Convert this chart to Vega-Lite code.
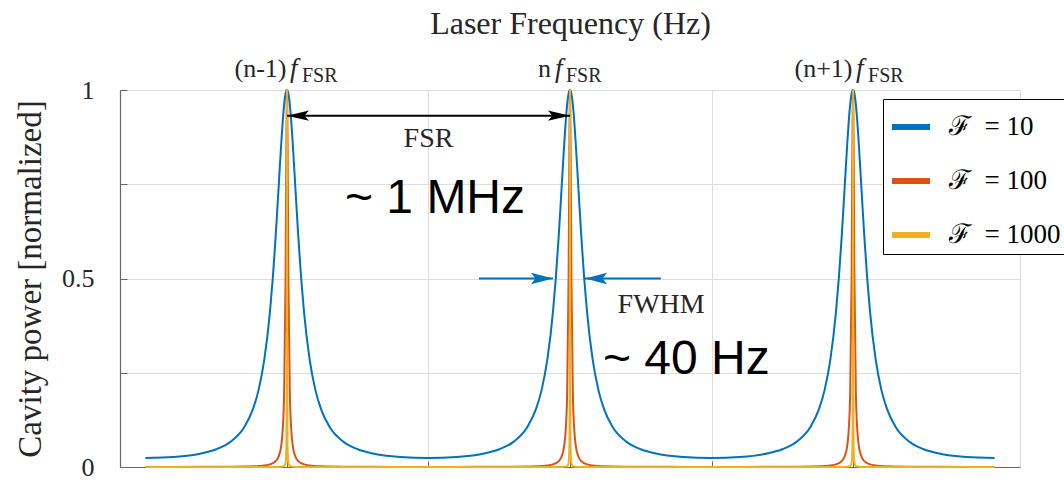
{
  "$schema": "https://vega.github.io/schema/vega-lite/v6.json",
  "width": 900,
  "height": 377,
  "autosize": {"type": "none"},
  "padding": {"left": 120, "top": 90, "right": 44, "bottom": 15},
  "background": "white",
  "config": {
    "view": {"stroke": "#dcdcdc", "strokeWidth": 1},
    "axis": {"labelFont": "Liberation Serif", "titleFont": "Liberation Serif"}
  },
  "datasets": {
    "curves": [
      {"x":-1.5,"a":0.0241,"b":0.0002,"c":0},
      {"x":-1.4,"a":0.0266,"b":0.0003,"c":0},
      {"x":-1.3,"a":0.0363,"b":0.0004,"c":0},
      {"x":-1.25,"a":0.047,"b":0.0005,"c":0},
      {"x":-1.2,"a":0.0667,"b":0.0007,"c":0},
      {"x":-1.15,"a":0.1069,"b":0.0012,"c":0},
      {"x":-1.12,"a":0.154,"b":0.0018,"c":0},
      {"x":-1.1,"a":0.2053,"b":0.0026,"c":0},
      {"x":-1.08,"a":0.2852,"b":0.004,"c":0},
      {"x":-1.06,"a":0.4127,"b":0.007,"c":0.0001},
      {"x":-1.05,"a":0.5021,"b":0.01,"c":0.0001},
      {"x":-1.04,"a":0.611,"b":0.0155,"c":0.0002},
      {"x":-1.03,"a":0.7359,"b":0.0271,"c":0.0003},
      {"x":-1.02,"a":0.8622,"b":0.0589,"c":0.0006},
      {"x":-1.015,"a":0.9175,"b":0.1001,"c":0.0011},
      {"x":-1.01,"a":0.9616,"b":0.2001,"c":0.0025},
      {"x":-1.005,"a":0.9901,"b":0.5,"c":0.0099},
      {"x":-1.002,"a":0.9984,"b":0.8621,"c":0.0588},
      {"x":-1.001,"a":0.9996,"b":0.9615,"c":0.2},
      {"x":-1.0005,"a":0.9999,"b":0.9901,"c":0.5},
      {"x":-1,"a":1,"b":1,"c":1},
      {"x":-0.9995,"a":0.9999,"b":0.9901,"c":0.5},
      {"x":-0.999,"a":0.9996,"b":0.9615,"c":0.2},
      {"x":-0.998,"a":0.9984,"b":0.8621,"c":0.0588},
      {"x":-0.995,"a":0.9901,"b":0.5,"c":0.0099},
      {"x":-0.99,"a":0.9616,"b":0.2001,"c":0.0025},
      {"x":-0.985,"a":0.9175,"b":0.1001,"c":0.0011},
      {"x":-0.98,"a":0.8622,"b":0.0589,"c":0.0006},
      {"x":-0.97,"a":0.7359,"b":0.0271,"c":0.0003},
      {"x":-0.96,"a":0.611,"b":0.0155,"c":0.0002},
      {"x":-0.95,"a":0.5021,"b":0.01,"c":0.0001},
      {"x":-0.94,"a":0.4127,"b":0.007,"c":0.0001},
      {"x":-0.92,"a":0.2852,"b":0.004,"c":0},
      {"x":-0.9,"a":0.2053,"b":0.0026,"c":0},
      {"x":-0.88,"a":0.154,"b":0.0018,"c":0},
      {"x":-0.85,"a":0.1069,"b":0.0012,"c":0},
      {"x":-0.8,"a":0.0667,"b":0.0007,"c":0},
      {"x":-0.75,"a":0.047,"b":0.0005,"c":0},
      {"x":-0.7,"a":0.0363,"b":0.0004,"c":0},
      {"x":-0.6,"a":0.0266,"b":0.0003,"c":0},
      {"x":-0.5,"a":0.0241,"b":0.0002,"c":0},
      {"x":-0.4,"a":0.0266,"b":0.0003,"c":0},
      {"x":-0.3,"a":0.0363,"b":0.0004,"c":0},
      {"x":-0.25,"a":0.047,"b":0.0005,"c":0},
      {"x":-0.2,"a":0.0667,"b":0.0007,"c":0},
      {"x":-0.15,"a":0.1069,"b":0.0012,"c":0},
      {"x":-0.12,"a":0.154,"b":0.0018,"c":0},
      {"x":-0.1,"a":0.2053,"b":0.0026,"c":0},
      {"x":-0.08,"a":0.2852,"b":0.004,"c":0},
      {"x":-0.06,"a":0.4127,"b":0.007,"c":0.0001},
      {"x":-0.05,"a":0.5021,"b":0.01,"c":0.0001},
      {"x":-0.04,"a":0.611,"b":0.0155,"c":0.0002},
      {"x":-0.03,"a":0.7359,"b":0.0271,"c":0.0003},
      {"x":-0.02,"a":0.8622,"b":0.0589,"c":0.0006},
      {"x":-0.015,"a":0.9175,"b":0.1001,"c":0.0011},
      {"x":-0.01,"a":0.9616,"b":0.2001,"c":0.0025},
      {"x":-0.005,"a":0.9901,"b":0.5,"c":0.0099},
      {"x":-0.002,"a":0.9984,"b":0.8621,"c":0.0588},
      {"x":-0.001,"a":0.9996,"b":0.9615,"c":0.2},
      {"x":-0.0005,"a":0.9999,"b":0.9901,"c":0.5},
      {"x":0,"a":1,"b":1,"c":1},
      {"x":0.0005,"a":0.9999,"b":0.9901,"c":0.5},
      {"x":0.001,"a":0.9996,"b":0.9615,"c":0.2},
      {"x":0.002,"a":0.9984,"b":0.8621,"c":0.0588},
      {"x":0.005,"a":0.9901,"b":0.5,"c":0.0099},
      {"x":0.01,"a":0.9616,"b":0.2001,"c":0.0025},
      {"x":0.015,"a":0.9175,"b":0.1001,"c":0.0011},
      {"x":0.02,"a":0.8622,"b":0.0589,"c":0.0006},
      {"x":0.03,"a":0.7359,"b":0.0271,"c":0.0003},
      {"x":0.04,"a":0.611,"b":0.0155,"c":0.0002},
      {"x":0.05,"a":0.5021,"b":0.01,"c":0.0001},
      {"x":0.06,"a":0.4127,"b":0.007,"c":0.0001},
      {"x":0.08,"a":0.2852,"b":0.004,"c":0},
      {"x":0.1,"a":0.2053,"b":0.0026,"c":0},
      {"x":0.12,"a":0.154,"b":0.0018,"c":0},
      {"x":0.15,"a":0.1069,"b":0.0012,"c":0},
      {"x":0.2,"a":0.0667,"b":0.0007,"c":0},
      {"x":0.25,"a":0.047,"b":0.0005,"c":0},
      {"x":0.3,"a":0.0363,"b":0.0004,"c":0},
      {"x":0.4,"a":0.0266,"b":0.0003,"c":0},
      {"x":0.5,"a":0.0241,"b":0.0002,"c":0},
      {"x":0.6,"a":0.0266,"b":0.0003,"c":0},
      {"x":0.7,"a":0.0363,"b":0.0004,"c":0},
      {"x":0.75,"a":0.047,"b":0.0005,"c":0},
      {"x":0.8,"a":0.0667,"b":0.0007,"c":0},
      {"x":0.85,"a":0.1069,"b":0.0012,"c":0},
      {"x":0.88,"a":0.154,"b":0.0018,"c":0},
      {"x":0.9,"a":0.2053,"b":0.0026,"c":0},
      {"x":0.92,"a":0.2852,"b":0.004,"c":0},
      {"x":0.94,"a":0.4127,"b":0.007,"c":0.0001},
      {"x":0.95,"a":0.5021,"b":0.01,"c":0.0001},
      {"x":0.96,"a":0.611,"b":0.0155,"c":0.0002},
      {"x":0.97,"a":0.7359,"b":0.0271,"c":0.0003},
      {"x":0.98,"a":0.8622,"b":0.0589,"c":0.0006},
      {"x":0.985,"a":0.9175,"b":0.1001,"c":0.0011},
      {"x":0.99,"a":0.9616,"b":0.2001,"c":0.0025},
      {"x":0.995,"a":0.9901,"b":0.5,"c":0.0099},
      {"x":0.998,"a":0.9984,"b":0.8621,"c":0.0588},
      {"x":0.999,"a":0.9996,"b":0.9615,"c":0.2},
      {"x":0.9995,"a":0.9999,"b":0.9901,"c":0.5},
      {"x":1,"a":1,"b":1,"c":1},
      {"x":1.0005,"a":0.9999,"b":0.9901,"c":0.5},
      {"x":1.001,"a":0.9996,"b":0.9615,"c":0.2},
      {"x":1.002,"a":0.9984,"b":0.8621,"c":0.0588},
      {"x":1.005,"a":0.9901,"b":0.5,"c":0.0099},
      {"x":1.01,"a":0.9616,"b":0.2001,"c":0.0025},
      {"x":1.015,"a":0.9175,"b":0.1001,"c":0.0011},
      {"x":1.02,"a":0.8622,"b":0.0589,"c":0.0006},
      {"x":1.03,"a":0.7359,"b":0.0271,"c":0.0003},
      {"x":1.04,"a":0.611,"b":0.0155,"c":0.0002},
      {"x":1.05,"a":0.5021,"b":0.01,"c":0.0001},
      {"x":1.06,"a":0.4127,"b":0.007,"c":0.0001},
      {"x":1.08,"a":0.2852,"b":0.004,"c":0},
      {"x":1.1,"a":0.2053,"b":0.0026,"c":0},
      {"x":1.12,"a":0.154,"b":0.0018,"c":0},
      {"x":1.15,"a":0.1069,"b":0.0012,"c":0},
      {"x":1.2,"a":0.0667,"b":0.0007,"c":0},
      {"x":1.25,"a":0.047,"b":0.0005,"c":0},
      {"x":1.3,"a":0.0363,"b":0.0004,"c":0},
      {"x":1.4,"a":0.0266,"b":0.0003,"c":0},
      {"x":1.5,"a":0.0241,"b":0.0002,"c":0}
    ]
  },
  "layer": [
    {
      "data": {"name": "curves"},
      "transform": [{"fold": ["a", "b", "c"], "as": ["k", "v"]}],
      "mark": {"type": "line", "strokeWidth": 2, "interpolate": "monotone"},
      "encoding": {
        "x": {
          "field": "x", "type": "quantitative",
          "scale": {"domain": [-1.59, 1.59], "nice": false, "zero": false},
          "axis": {
            "orient": "top", "values": [-1, -0.5, 0, 0.5, 1],
            "labels": false, "ticks": false, "domain": true, "domainColor": "#dcdcdc",
            "grid": true, "gridColor": "#dedede", "gridWidth": 1,
            "title": "Laser Frequency (Hz)", "titleFontSize": 32, "titleFontWeight": "normal",
            "titleColor": "#262626", "titleX": 450, "titleY": -57,
            "titleAlign": "center", "titleBaseline": "alphabetic"
          }
        },
        "y": {
          "field": "v", "type": "quantitative",
          "scale": {"domain": [0, 1], "nice": false, "zero": false},
          "axis": {
            "values": [0, 0.25, 0.5, 0.75, 1],
            "labelExpr": "datum.value == 0 ? '0' : datum.value == 0.5 ? '0.5' : datum.value == 1 ? '1' : ''",
            "labelFontSize": 26, "labelColor": "#262626", "labelPadding": 33,
            "tickSize": -7, "tickColor": "#666666", "domainColor": "#666666", "domainWidth": 1.2,
            "grid": true, "gridColor": "#dedede", "gridWidth": 1,
            "title": "Cavity power [normalized]", "titleFontSize": 33, "titleFontWeight": "normal",
            "titleColor": "#262626", "titleX": -80, "titleY": 188.5, "titleAngle": -90,
            "titleAlign": "center", "titleBaseline": "alphabetic"
          }
        },
        "color": {
          "field": "k", "type": "nominal",
          "scale": {"domain": ["a", "b", "c"], "range": ["#0072BD", "#D95319", "#EDB120"]},
          "legend": {
            "orient": "none", "legendX": 763, "legendY": 9, "title": null,
            "symbolType": "stroke", "symbolStrokeWidth": 6, "symbolSize": 1444,
            "labelFont": "Liberation Serif", "labelFontSize": 27, "labelColor": "#000000",
            "labelOffset": 16, "rowPadding": 19, "padding": 6,
            "strokeColor": "#000000", "fillColor": "#ffffff",
            "labelExpr": "datum.label == 'a' ? 'ℱ\u2002= 10' : datum.label == 'b' ? 'ℱ\u2002= 100' : 'ℱ\u2002= 1000'"
          }
        }
      }
    },
    {
      "data": {"values": [{"x": -1, "x2": 0, "y": 0.932}]},
      "mark": {"type": "rule", "color": "#000000", "strokeWidth": 2},
      "encoding": {
        "x": {
          "field": "x", "type": "quantitative",
          "axis": {
            "orient": "bottom", "values": [-1, -0.5, 0, 0.5, 1], "labels": false, "grid": false,
            "title": null, "tickSize": -6, "tickColor": "#666666", "domainColor": "#666666", "domainWidth": 1.2
          }
        },
        "x2": {"field": "x2"},
        "y": {"field": "y", "type": "quantitative", "axis": null}
      }
    },
    {
      "data": {"values": [{"x": -0.322, "x2": -0.06, "y": 0.5}, {"x": 0.053, "x2": 0.321, "y": 0.5}]},
      "mark": {"type": "rule", "color": "#0072BD", "strokeWidth": 2},
      "encoding": {
        "x": {"field": "x", "type": "quantitative", "axis": null},
        "x2": {"field": "x2"},
        "y": {"field": "y", "type": "quantitative", "axis": null}
      }
    },
    {
      "data": {"values": [{"x": -1, "y": 0.932}]},
      "mark": {"type": "point", "shape": "M0,0L1,-0.23L0.8,0L1,0.23Z", "size": 1936, "filled": true, "opacity": 1, "color": "#000000", "strokeWidth": 0},
      "encoding": {
        "x": {"field": "x", "type": "quantitative", "axis": null},
        "y": {"field": "y", "type": "quantitative", "axis": null}
      }
    },
    {
      "data": {"values": [{"x": 0, "y": 0.932}]},
      "mark": {"type": "point", "shape": "M0,0L-1,-0.23L-0.8,0L-1,0.23Z", "size": 1936, "filled": true, "opacity": 1, "color": "#000000", "strokeWidth": 0},
      "encoding": {
        "x": {"field": "x", "type": "quantitative", "axis": null},
        "y": {"field": "y", "type": "quantitative", "axis": null}
      }
    },
    {
      "data": {"values": [{"x": -0.06, "y": 0.5}]},
      "mark": {"type": "point", "shape": "M0,0L-1,-0.26L-0.8,0L-1,0.26Z", "size": 1936, "filled": true, "opacity": 1, "color": "#0072BD", "strokeWidth": 0},
      "encoding": {
        "x": {"field": "x", "type": "quantitative", "axis": null},
        "y": {"field": "y", "type": "quantitative", "axis": null}
      }
    },
    {
      "data": {"values": [{"x": 0.053, "y": 0.5}]},
      "mark": {"type": "point", "shape": "M0,0L1,-0.26L0.8,0L1,0.26Z", "size": 1936, "filled": true, "opacity": 1, "color": "#0072BD", "strokeWidth": 0},
      "encoding": {
        "x": {"field": "x", "type": "quantitative", "axis": null},
        "y": {"field": "y", "type": "quantitative", "axis": null}
      }
    },
    {
      "data": {"values": [{"x": -0.5, "y": 0.849, "t": "FSR"}, {"x": 0.322, "y": 0.4085, "t": "FWHM"}]},
      "mark": {"type": "text", "font": "Liberation Serif", "fontSize": 28, "color": "#262626", "align": "center", "baseline": "alphabetic"},
      "encoding": {
        "x": {"field": "x", "type": "quantitative", "axis": null},
        "y": {"field": "y", "type": "quantitative", "axis": null},
        "text": {"field": "t"}
      }
    },
    {
      "data": {"values": [{"x": -0.477, "y": 0.674, "t": "~ 1 MHz"}, {"x": 0.411, "y": 0.2467, "t": "~ 40 Hz"}]},
      "mark": {"type": "text", "font": "Liberation Sans", "fontSize": 48, "color": "#000000", "align": "center", "baseline": "alphabetic"},
      "encoding": {
        "x": {"field": "x", "type": "quantitative", "axis": null},
        "y": {"field": "y", "type": "quantitative", "axis": null},
        "text": {"field": "t"}
      }
    },
    {
      "data": {"values": [{"x": -1, "t": "(n-1)"}, {"x": 1, "t": "(n+1)"}]},
      "mark": {"type": "text", "font": "Liberation Serif", "fontSize": 26, "color": "#262626", "align": "right", "baseline": "alphabetic", "dx": -0.5, "dy": -13},
      "encoding": {
        "x": {"field": "x", "type": "quantitative", "axis": null},
        "y": {"datum": 1, "type": "quantitative", "axis": null},
        "text": {"field": "t"}
      }
    },
    {
      "data": {"values": [{"x": -1, "t": "f"}, {"x": 1, "t": "f"}]},
      "mark": {"type": "text", "font": "Liberation Serif", "fontSize": 27, "fontStyle": "italic", "color": "#262626", "align": "left", "baseline": "alphabetic", "dx": 3, "dy": -13},
      "encoding": {
        "x": {"field": "x", "type": "quantitative", "axis": null},
        "y": {"datum": 1, "type": "quantitative", "axis": null},
        "text": {"field": "t"}
      }
    },
    {
      "data": {"values": [{"x": -1, "t": "FSR"}, {"x": 1, "t": "FSR"}]},
      "mark": {"type": "text", "font": "Liberation Serif", "fontSize": 20, "color": "#262626", "align": "left", "baseline": "alphabetic", "dx": 15, "dy": -8},
      "encoding": {
        "x": {"field": "x", "type": "quantitative", "axis": null},
        "y": {"datum": 1, "type": "quantitative", "axis": null},
        "text": {"field": "t"}
      }
    },
    {
      "data": {"values": [{"x": 0, "t": "n"}]},
      "mark": {"type": "text", "font": "Liberation Serif", "fontSize": 26, "color": "#262626", "align": "right", "baseline": "alphabetic", "dx": -19, "dy": -13},
      "encoding": {
        "x": {"field": "x", "type": "quantitative", "axis": null},
        "y": {"datum": 1, "type": "quantitative", "axis": null},
        "text": {"field": "t"}
      }
    },
    {
      "data": {"values": [{"x": 0, "t": "f"}]},
      "mark": {"type": "text", "font": "Liberation Serif", "fontSize": 27, "fontStyle": "italic", "color": "#262626", "align": "left", "baseline": "alphabetic", "dx": -15, "dy": -13},
      "encoding": {
        "x": {"field": "x", "type": "quantitative", "axis": null},
        "y": {"datum": 1, "type": "quantitative", "axis": null},
        "text": {"field": "t"}
      }
    },
    {
      "data": {"values": [{"x": 0, "t": "FSR"}]},
      "mark": {"type": "text", "font": "Liberation Serif", "fontSize": 20, "color": "#262626", "align": "left", "baseline": "alphabetic", "dx": -4, "dy": -8},
      "encoding": {
        "x": {"field": "x", "type": "quantitative", "axis": null},
        "y": {"datum": 1, "type": "quantitative", "axis": null},
        "text": {"field": "t"}
      }
    }
  ],
  "resolve": {"axis": {"x": "independent", "y": "independent"}}
}
